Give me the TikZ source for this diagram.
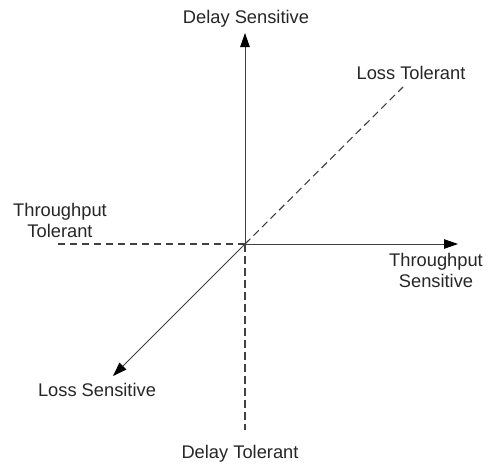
\documentclass[tikz,border=0pt]{standalone}
\usepackage{fontspec}
\setmainfont{Liberation Sans}
\usetikzlibrary{arrows.meta}
\definecolor{axisgray}{HTML}{404040}
\definecolor{labelgray}{HTML}{262626}
\tikzset{
  axis/.style={draw=axisgray, line width=0.9pt,
    -{Triangle[length=14pt,width=9.5pt,fill=black,color=black]}},
  dashaxis/.style={draw=axisgray, line width=1.1pt, dash pattern=on 7.5pt off 4.5pt},
  lbl/.style={inner sep=0pt, text=labelgray, align=center,
    font=\fontsize{18.3}{20.5}\selectfont, anchor=base}
}
\begin{document}
\begin{tikzpicture}[x=1pt, y=-1pt]
  \useasboundingbox (0,0) rectangle (490,466);
  % centre of the diagram
  \coordinate (O) at (245,244);
  % axis ends
  \coordinate (up) at (245,33);
  \coordinate (down) at (245,430);
  \coordinate (right) at (458,244);
  \coordinate (left) at (58,244);
  \coordinate (ne) at (403,87);
  \coordinate (sw) at (113,376);
  % solid axes with arrow heads
  \draw[axis] (O) -- (up);
  \draw[axis] (O) -- (right);
  \draw[axis] (O) -- (sw);
  % dashed half axes
  \draw[dashaxis] (O) -- (down);
  \draw[dashaxis] (O) -- (left);
  \draw[dashaxis] (O) -- (ne);
  % labels (the base of a two-line label is its last line)
  \node[lbl] (ds) at (246,23) {Delay Sensitive};
  \node[lbl] (dt) at (240,458) {Delay Tolerant};
  \node[lbl] (lt) at (411,79) {Loss Tolerant};
  \node[lbl] (ls) at (97,396) {Loss Sensitive};
  \node[lbl] (tt) at (60,237) {Throughput\\Tolerant};
  \node[lbl] (ts) at (436,287) {Throughput\\Sensitive};
\end{tikzpicture}
\end{document}
